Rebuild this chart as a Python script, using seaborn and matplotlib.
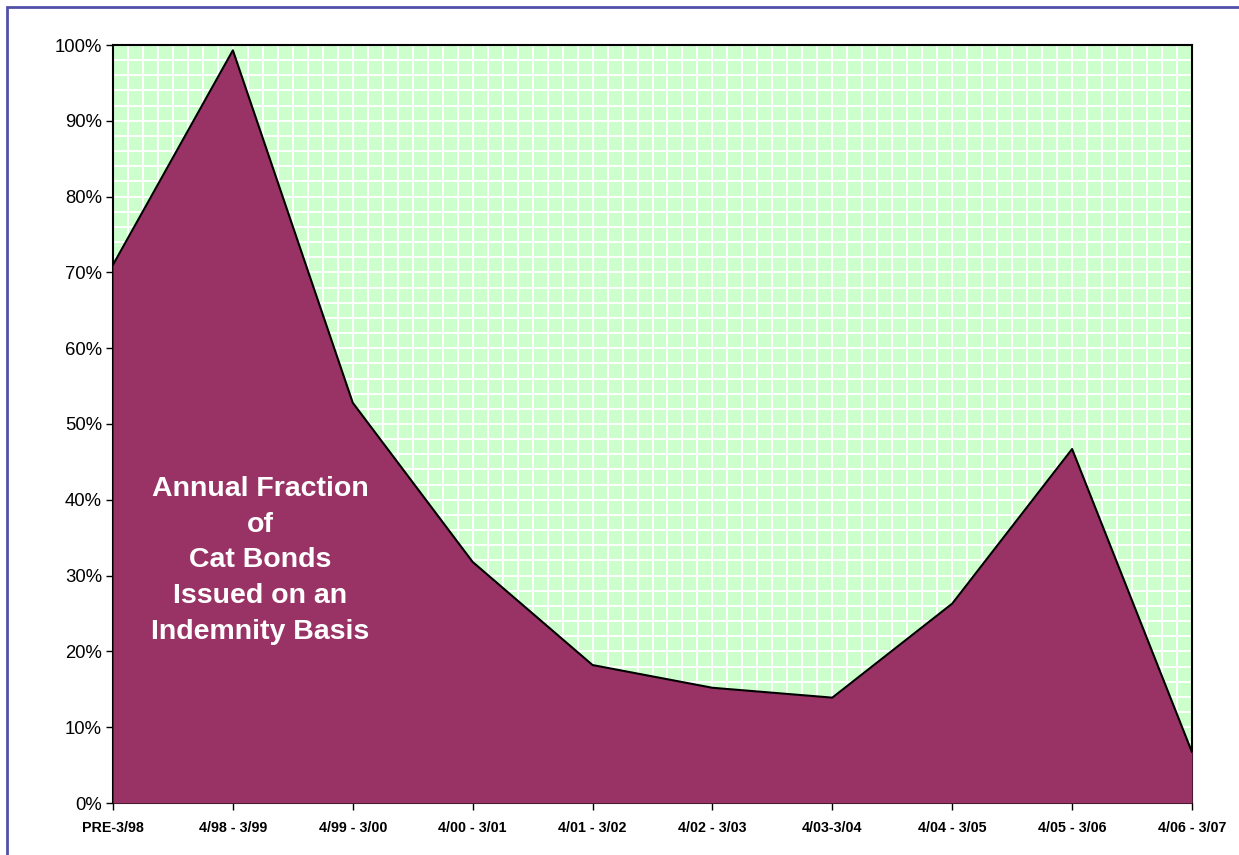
import matplotlib
matplotlib.use("Agg")
import matplotlib.pyplot as plt
import seaborn as sns
import pandas as pd
import numpy as np
from matplotlib.ticker import MultipleLocator, FuncFormatter
from matplotlib.patches import Rectangle

categories = ["PRE-3/98", "4/98 - 3/99", "4/99 - 3/00", "4/00 - 3/01", "4/01 - 3/02",
              "4/02 - 3/03", "4/03-3/04", "4/04 - 3/05", "4/05 - 3/06", "4/06 - 3/07"]
fraction = [71.0, 99.3, 52.8, 31.8, 18.2, 15.2, 13.9, 26.3, 46.7, 6.7]

df = pd.DataFrame({"idx": np.arange(len(categories)), "fraction": fraction})

sns.set_style("white")
plt.rcParams['font.family'] = ['Liberation Sans', 'DejaVu Sans']

fig = plt.figure(figsize=(12.39, 8.55), dpi=100)
ax = fig.add_axes([113/1239, 1-803/855, (1192-113)/1239, (803-45)/855])

ax.set_facecolor("#CCFFCC")
ax.fill_between(df["idx"], df["fraction"], 0, color="#993366", zorder=3, linewidth=0)
sns.lineplot(data=df, x="idx", y="fraction", color="black", linewidth=1.5, ax=ax, zorder=4)

ax.set_xlim(0, len(categories) - 1)
ax.set_ylim(0, 100)
ax.set_xticks(df["idx"])
ax.set_xticklabels(categories, fontsize=10.3, fontweight="bold")
ax.yaxis.set_major_locator(MultipleLocator(10))
ax.yaxis.set_major_formatter(FuncFormatter(lambda v, p: f"{int(round(v))}%"))
ax.tick_params(axis="y", labelsize=13.3, length=5, width=1, direction="out", pad=3, left=True,
               colors="black")
ax.tick_params(axis="x", length=5, width=1, direction="out", pad=8, bottom=True, colors="black")
ax.set_xlabel("")
ax.set_ylabel("")

# grid pattern
ax.xaxis.set_minor_locator(MultipleLocator(1/8))
ax.yaxis.set_minor_locator(MultipleLocator(2))
ax.tick_params(which="minor", length=0)
ax.grid(True, which="both", color="white", linewidth=1.4, zorder=1)
ax.set_axisbelow(True)

for s in ax.spines.values():
    s.set_visible(True)
    s.set_color("black")
    s.set_linewidth(1.5)

ax.text(1.23, 32.0, "Annual Fraction\nof\nCat Bonds\nIssued on an\nIndemnity Basis",
        ha="center", va="center", color="white", fontsize=20.5, fontweight="bold",
        linespacing=1.49, zorder=5)

# figure frame
fig.patches.append(Rectangle((7/1239, -0.05), 1.1, 1 - 7/855 + 0.05, transform=fig.transFigure,
                             fill=False, edgecolor="#5050A8", linewidth=2))

fig.savefig("out.png", dpi=100, facecolor="white")
